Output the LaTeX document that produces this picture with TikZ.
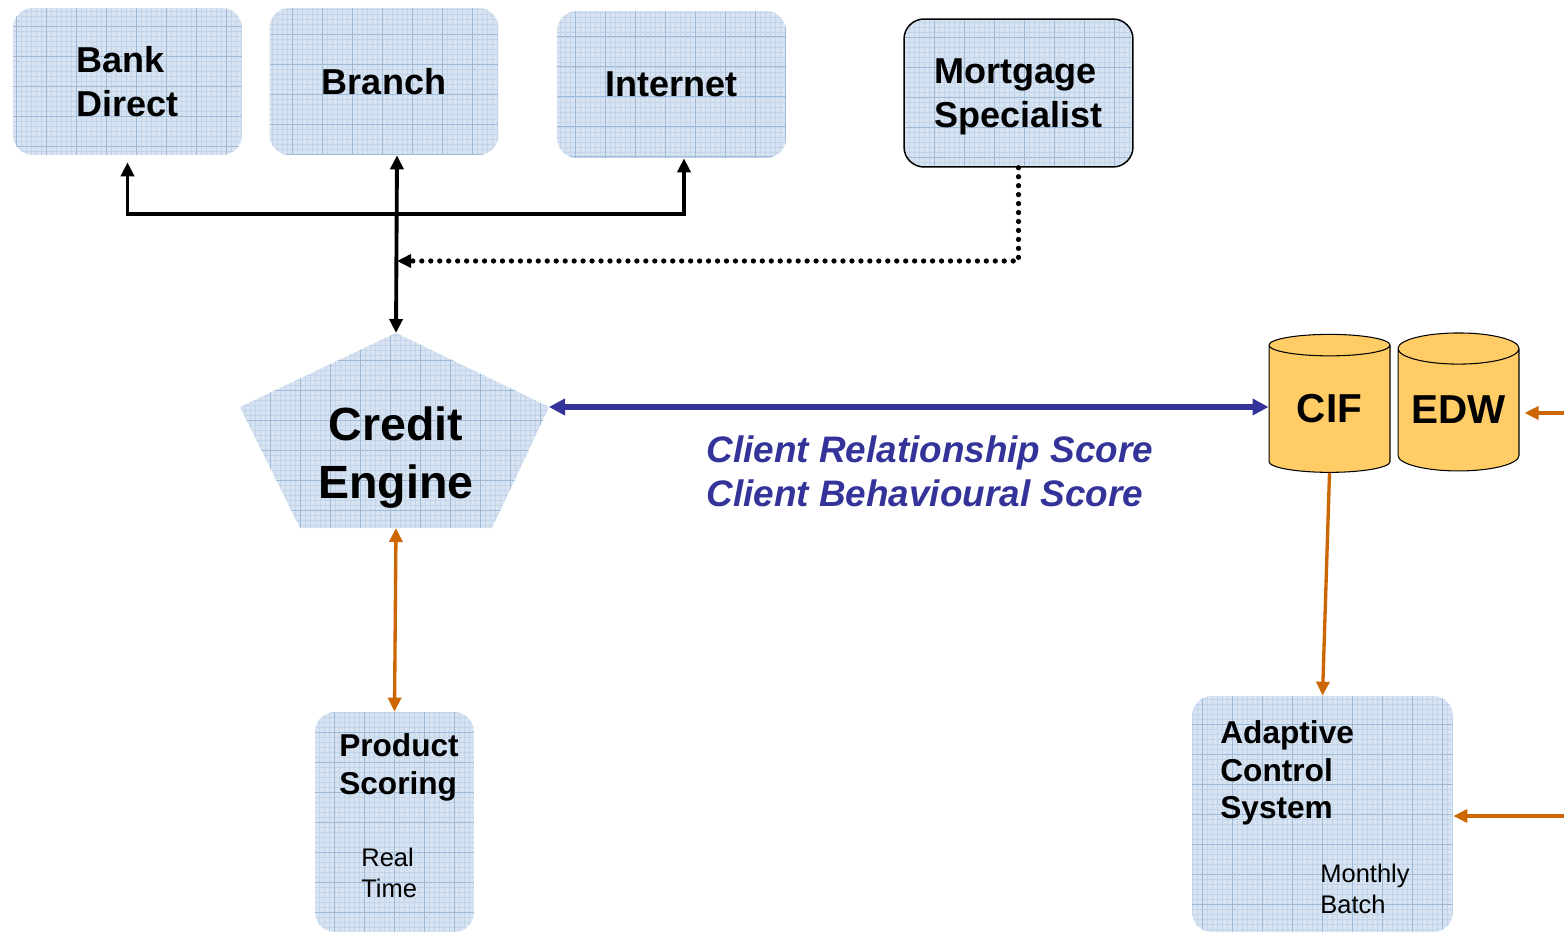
\documentclass[tikz,border=0pt]{standalone}
\usepackage{fontspec}
\setmainfont{Liberation Sans}
\usetikzlibrary{arrows.meta,shapes.geometric}
\definecolor{boxblue}{HTML}{D7E3F1}
\definecolor{gridmin}{HTML}{C3D5EA}
\definecolor{gridmaj}{HTML}{9DBAD9}
\definecolor{dbgold}{HTML}{FFCC66}
\definecolor{scoreblue}{HTML}{333399}
\definecolor{feedorange}{HTML}{CC6600}
\tikzset{
  gridfill/.style={fill=boxblue, path picture={
      \draw[gridmin,line width=0.2pt] (path picture bounding box.south west) grid[step=0.1cm] (path picture bounding box.north east);
      \draw[gridmaj,line width=0.35pt] (path picture bounding box.south west) grid[step=0.6cm] (path picture bounding box.north east);}},
  chanbox/.style={gridfill, rounded corners=0.4cm, minimum width=4.58cm, minimum height=2.94cm, inner sep=0pt, align=left,
      font=\fontsize{20.5}{25}\selectfont\bfseries},
  sysbox/.style={gridfill, rounded corners=0.4cm, inner sep=0pt},
  txt/.style={inner sep=0pt, align=left},
  dbcyl/.style={cylinder, shape border rotate=90, aspect=0.33, draw, line width=0.6pt,
      cylinder uses custom fill, cylinder body fill=dbgold, cylinder end fill=dbgold,
      minimum width=2.42cm, minimum height=2.76cm, inner sep=0pt, font=\fontsize{23}{28}\selectfont\bfseries},
  blk/.style={line width=2.2pt, black},
  dotln/.style={line width=3pt, line cap=round, dash pattern=on 0pt off 5.1pt},
  bluln/.style={line width=3pt, scoreblue},
  orln/.style={line width=1.9pt, feedorange},
  tip/.style={-{Triangle[width=0.26cm,length=0.28cm]}},
  tips/.style={{Triangle[width=0.26cm,length=0.28cm]}-{Triangle[width=0.26cm,length=0.28cm]}},
}
\begin{document}
\begin{tikzpicture}[x=0.02cm,y=-0.02cm]
\useasboundingbox (0,0) rectangle (1564,935);
% channels
\node[chanbox] (bank) at (127.5,81.5) {Bank\\Direct};
\node[chanbox] (branch) at (384,81.5) {Branch};
\node[chanbox] (inet) at (671.5,84.5) {Internet};
\node[chanbox, draw=black, line width=0.85pt, minimum height=2.96cm, text depth=-0.2cm] (mort) at (1018.5,93) {Mortgage\\Specialist};
% credit engine
\coordinate (eT) at (396,333);
\coordinate (eR) at (549,407);
\coordinate (eBR) at (492,528);
\coordinate (eBL) at (300,528);
\coordinate (eL) at (240,407);
\coordinate (eB) at (396,528);
\path[gridfill] (eT) -- (eR) -- (eBR) -- (eBL) -- (eL) -- cycle;
\node[align=center, inner sep=0pt, font=\fontsize{26.5}{33}\selectfont\bfseries] (engine) at (396,458) {Credit\\Engine};
% databases
\node[dbcyl] (cif) at (1329.5,409) {\raisebox{-0.12cm}{CIF}};
\node[dbcyl] (edw) at (1458.5,410) {\raisebox{-0.12cm}{EDW}};
% scoring systems
\node[sysbox, minimum width=3.18cm, minimum height=4.4cm] (prod) at (394.5,822) {};
\node[txt, font=\fontsize{18}{21.5}\selectfont\bfseries] (prodtxt) at (399,767) {Product\\Scoring};
\node[txt, anchor=west, font=\fontsize{14.5}{18}\selectfont] (prodfreq) at (361,873) {Real\\Time};
\node[sysbox, minimum width=5.22cm, minimum height=4.72cm] (acs) at (1322.5,814) {};
\node[txt, anchor=west, font=\fontsize{18}{21.5}\selectfont\bfseries] (acstxt) at (1220,773) {Adaptive\\Control\\System};
\node[txt, anchor=west, font=\fontsize{14.5}{18}\selectfont] (acsfreq) at (1320,889) {Monthly\\Batch};
% scores
\node[txt, anchor=west, text=scoreblue, font=\fontsize{21}{25}\selectfont\bfseries\itshape] (scores) at (706,471)
  {Client Relationship Score\\Client Behavioural Score};
% links
\coordinate (jn) at (397,214);
\coordinate (jd) at (397,261);
\coordinate (edgeA) at (1564,413);
\coordinate (edgeB) at (1564,816);
\draw[blk,tips] ([yshift=-0.14cm]bank.south) |- (jn) -| ([xshift=0.25cm]inet.south);
\draw[blk,tips] (eT) -- ([xshift=0.26cm]branch.south);
\draw[dotln,tip] (mort.south) |- (jd);
\draw[bluln,{Triangle[width=0.32cm,length=0.32cm]}-{Triangle[width=0.32cm,length=0.32cm]}] (eR) -- (cif.west |- eR);
\draw[orln,tips] (eB) -- (prod.north);
\draw[orln,tip] (cif.south) -- (acs.north);
\draw[orln,tip] (edgeA) -- ([xshift=0.1cm]edgeA -| edw.east);
\draw[orln,tip] (edgeB) -- (edgeB -| acs.east);
\end{tikzpicture}
\end{document}
